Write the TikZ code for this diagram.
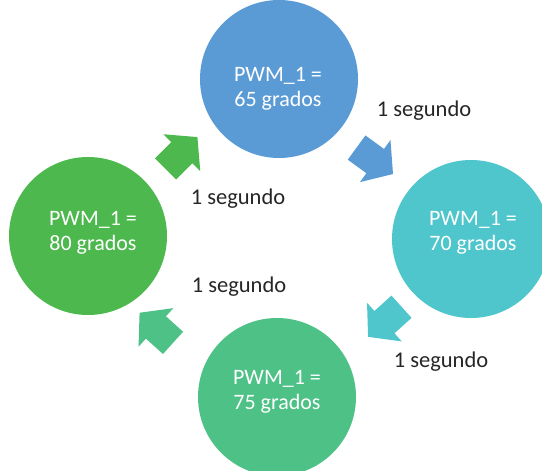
\documentclass[tikz,border=0pt]{standalone}
\usepackage{fontspec}
\setmainfont{Carlito}
\definecolor{cblue}{RGB}{91,155,213}
\definecolor{cteal}{RGB}{78,198,204}
\definecolor{cmint}{RGB}{78,193,134}
\definecolor{cgreen}{RGB}{76,184,78}
\definecolor{labcol}{RGB}{38,38,38}
\tikzset{
  stateball/.style={circle, minimum size=158pt, inner sep=0pt, draw=none},
  statetext/.style={text=white, inner sep=0pt, align=center, font=\fontsize{22}{24.5}\selectfont},
  delaylabel/.style={text=labcol, inner sep=0pt, font=\fontsize{22.5}{25}\selectfont},
  blockarrow/.pic={
    \fill (-22.5,-15) -- (0.5,-15) -- (0.5,-26) -- (22.5,0) -- (0.5,26) -- (0.5,15) -- (-22.5,15) -- cycle;
  }
}
\begin{document}
\begin{tikzpicture}[x=1pt,y=-1pt]
\useasboundingbox (0,0) rectangle (542,471);
\clip (0,0) rectangle (542,471);
\node[stateball, fill=cblue]  (s65) at (279,79)  {};
\node[stateball, fill=cteal]  (s70) at (471,239) {};
\node[stateball, fill=cmint]  (s75) at (277,397) {};
\node[stateball, fill=cgreen] (s80) at (88,236)  {};
\node[statetext] (t65) at (278,89)  {PWM\_1 =\\65 grados};
\node[statetext] (t70) at (473,233) {PWM\_1 =\\70 grados};
\node[statetext] (t75) at (277,392) {PWM\_1 =\\75 grados};
\node[statetext] (t80) at (93,233)  {PWM\_1 =\\80 grados};
\pic[rotate=-36, fill=cblue]  (a1) at (374.8,160.8) {blockarrow};
\pic[rotate=222, fill=cteal]  (a2) at (384.8,321.8) {blockarrow};
\pic[rotate=138, fill=cmint]  (a3) at (156.3,327.8) {blockarrow};
\pic[rotate=45,  fill=cgreen] (a4) at (181.5,153)   {blockarrow};
\node[delaylabel] (l1) at (424,111) {1 segundo};
\node[delaylabel] (l2) at (238,199) {1 segundo};
\node[delaylabel] (l3) at (239,287) {1 segundo};
\node[delaylabel] (l4) at (441,362) {1 segundo};
\end{tikzpicture}
\end{document}
